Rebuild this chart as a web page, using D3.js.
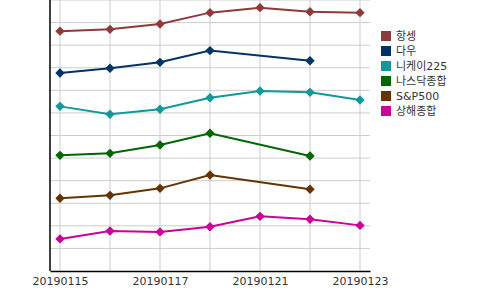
<!DOCTYPE html>
<meta charset="utf-8">
<style>
    body { margin: 0; background: #fff; }
    svg text { font-family: "DejaVu Sans", "Noto Sans CJK KR", sans-serif; }
</style>
<script src="https://cdn.jsdelivr.net/npm/d3@7"></script>
<div id="chart"></div>
<script>

    // dates on the x axis (trading days only)
    var dates = ["20190115", "20190116", "20190117", "20190118", "20190121", "20190122", "20190123"];
    var tickDates = ["20190115", "20190117", "20190121", "20190123"];

    // index values (relative units, gridline = 1)
    var hangseng = [10.62, 10.70, 10.94, 11.44, 11.66, 11.48, 11.44];
    var dow      = [8.77, 8.98, 9.24, 9.76, null, 9.31, null];
    var nikkei   = [7.29, 6.94, 7.16, 7.67, 7.97, 7.91, 7.57];
    var nasdaq   = [5.12, 5.21, 5.58, 6.10, null, 5.09, null];
    var sp500    = [3.22, 3.35, 3.66, 4.25, null, 3.62, null];
    var shanghai = [1.42, 1.77, 1.73, 1.96, 2.42, 2.29, 2.02];

    var names  = ["항셍", "다우", "니케이225", "나스닥종합", "S&P500", "상해종합"];
    var colors = ["#8f3a3a", "#003366", "#0f9999", "#006600", "#663300", "#cc0099"];

    var series = [hangseng, dow, nikkei, nasdaq, sp500, shanghai].map(function (vals, i) {
        return {
            name: names[i],
            color: colors[i],
            values: vals.map(function (v, j) { return {date: dates[j], value: v}; })
                        .filter(function (d) { return d.value != null; })
        };
    });

    var margin = {top: 0, right: 130, bottom: 19, left: 50},
        width = 500 - margin.left - margin.right,
        height = 290 - margin.top - margin.bottom;

    var svg = d3.select("#chart")
        .append("svg")
        .attr("width", 500)
        .attr("height", 290)
        .append("g")
        .attr("transform", "translate(" + margin.left + "," + margin.top + ")");

    var x = d3.scalePoint()
        .domain(dates)
        .range([0, width])
        .padding(0.2);

    var y = d3.scaleLinear()
        .domain([0, 12])
        .range([height, 0]);

    // gridlines
    svg.append("g")
        .selectAll("line.h")
        .data(d3.range(1, 13))
        .enter().append("line")
        .attr("x1", 0).attr("x2", width)
        .attr("y1", function (d) { return y(d); })
        .attr("y2", function (d) { return y(d); })
        .attr("stroke", "#cccccc")
        .attr("stroke-width", 1);

    svg.append("g")
        .selectAll("line.v")
        .data(dates)
        .enter().append("line")
        .attr("x1", function (d) { return x(d); })
        .attr("x2", function (d) { return x(d); })
        .attr("y1", 0).attr("y2", height)
        .attr("stroke", "#cccccc")
        .attr("stroke-width", 1);

    // axes
    var xAxis = svg.append("g")
        .attr("transform", "translate(0," + height + ")")
        .call(d3.axisBottom(x).tickValues(tickDates).tickSize(0).tickPadding(6));
    xAxis.select(".domain").attr("stroke", "#000").attr("stroke-width", 1.5);
    xAxis.selectAll("text")
        .attr("fill", "#333")
        .style("font-family", "'DejaVu Sans', sans-serif")
        .style("font-size", "11px");

    svg.append("line")
        .attr("x1", 0).attr("x2", 0)
        .attr("y1", 0).attr("y2", height)
        .attr("stroke", "#000")
        .attr("stroke-width", 1.5);

    var line = d3.line()
        .x(function (d) { return x(d.date); })
        .y(function (d) { return y(d.value); });

    // rotated square marker
    var diamond = d3.symbol().type(d3.symbolSquare).size(44);

    series.forEach(function (s) {
        svg.append("path")
            .datum(s.values)
            .attr("fill", "none")
            .attr("stroke", s.color)
            .attr("stroke-width", 2)
            .attr("d", line);

        svg.selectAll(null)
            .data(s.values)
            .enter().append("path")
            .attr("d", diamond)
            .attr("transform", function (d) { return "translate(" + x(d.date) + "," + y(d.value) + ") rotate(45)"; })
            .attr("fill", s.color);
    });

    // legend
    var legend = svg.append("g")
        .attr("transform", "translate(" + (width + 11) + ",36)");

    var items = legend.selectAll("g")
        .data(series)
        .enter().append("g")
        .attr("transform", function (d, i) { return "translate(0," + (i * 15) + ")"; });

    items.append("rect")
        .attr("x", 0).attr("y", -5)
        .attr("width", 10).attr("height", 10)
        .attr("fill", function (d) { return d.color; });

    items.append("text")
        .attr("x", 15)
        .attr("y", 0)
        .attr("dy", "0.36em")
        .attr("fill", "#333")
        .style("font-size", "11px")
        .text(function (d) { return d.name; });

</script>
